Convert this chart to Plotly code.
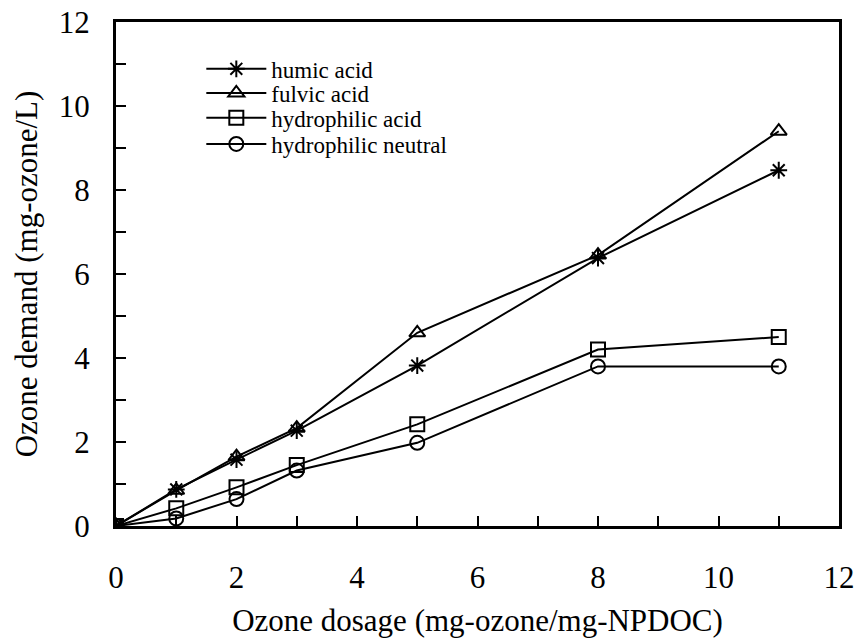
import plotly.graph_objects as go

dosage = [0, 1, 2, 3, 5, 8, 11]
humic_acid = [0, 0.87, 1.58, 2.27, 3.82, 6.38, 8.47]
fulvic_acid = [0, 0.85, 1.65, 2.33, 4.6, 6.45, 9.4]
hydrophilic_acid = [0, 0.42, 0.92, 1.45, 2.42, 4.2, 4.5]
hydrophilic_neutral = [0, 0.18, 0.64, 1.32, 1.98, 3.8, 3.8]

series = [
    ("humic acid", humic_acid, "asterisk-open"),
    ("fulvic acid", fulvic_acid, "triangle-up-open"),
    ("hydrophilic acid", hydrophilic_acid, "square-open"),
    ("hydrophilic neutral", hydrophilic_neutral, "circle-open"),
]
legend_ids = ["legend", "legend2", "legend3", "legend4"]
legend_rows = [0.907, 0.859, 0.81, 0.758]

font = "Liberation Serif, Times New Roman, serif"
fig = go.Figure()
for (name, vals, sym), lid in zip(series, legend_ids):
    fig.add_trace(go.Scatter(
        x=dosage, y=vals, name=name, mode="lines+markers", legend=lid,
        line=dict(color="black", width=2),
        marker=dict(symbol=sym, size=14, color="black", line=dict(color="black", width=2)),
    ))

axis_common = dict(
    showgrid=False, zeroline=False, showline=True, linecolor="black", linewidth=3,
    mirror=True, ticks="inside", ticklen=10, tickwidth=2, tickcolor="black",
    minor=dict(ticks="inside", ticklen=10, tickwidth=2, tickcolor="black", dtick=1),
    tickfont=dict(family=font, size=31, color="black"),
    title_font=dict(family=font, size=31, color="black"),
    automargin=False,
)

fig.update_xaxes(range=[0, 12], dtick=2, tick0=0, title_text="Ozone dosage (mg-ozone/mg-NPDOC)",
                 ticklabelstandoff=22, title_standoff=16, **axis_common)
fig.update_yaxes(range=[0, 12], dtick=2, tick0=0, title_text="Ozone demand (mg-ozone/L)",
                 ticklabelstandoff=17, title_standoff=12, **axis_common)

legend_layout = {}
for lid, ly in zip(legend_ids, legend_rows):
    legend_layout[lid] = dict(
        x=0.118, y=ly, xanchor="left", yanchor="middle",
        font=dict(family=font, size=23, color="black"),
        bgcolor="rgba(0,0,0,0)", itemwidth=60,
    )

fig.update_layout(
    width=859, height=641,
    font=dict(family=font, color="black"),
    margin=dict(l=116, r=20, t=22, b=115),
    paper_bgcolor="white", plot_bgcolor="white",
    showlegend=True,
    **legend_layout,
)

fig.write_html("out.html")
